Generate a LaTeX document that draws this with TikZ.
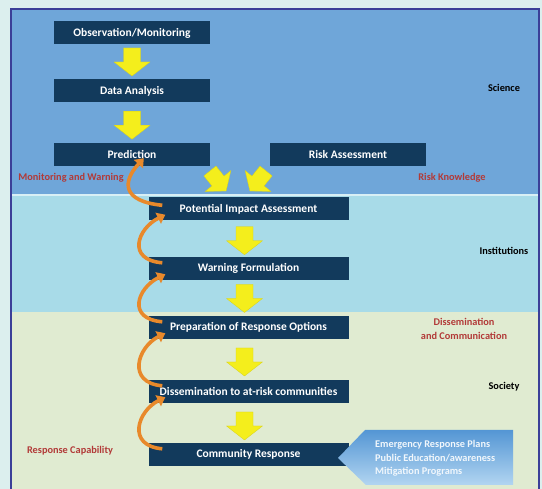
\documentclass[tikz,border=0pt]{standalone}
\usepackage{fontspec}
\setmainfont{Carlito}
\usetikzlibrary{calc,arrows.meta}
\definecolor{bgc}{HTML}{DCEFEE}
\definecolor{framec}{HTML}{3B3F98}
\definecolor{sci}{HTML}{6FA6D9}
\definecolor{inst}{HTML}{A8DBE8}
\definecolor{soc}{HTML}{E0EBD1}
\definecolor{navy}{HTML}{123A5C}
\definecolor{yel}{HTML}{F4EE1C}
\definecolor{orng}{HTML}{E8892B}
\definecolor{redl}{HTML}{B23A38}
\definecolor{callA}{HTML}{5496D4}
\definecolor{callB}{HTML}{B2D5F1}
\begin{document}
\begin{tikzpicture}[x=1pt,y=-1pt,
  box/.style={fill=navy, minimum width=156pt, minimum height=23pt, inner sep=0pt,
    text=white, font=\bfseries\fontsize{11.5}{13}\selectfont},
  widebox/.style={box, minimum width=200pt},
  lbl/.style={font=\bfseries\fontsize{10.3}{12}\selectfont, text=black},
  rlbl/.style={lbl, text=redl, align=center, font=\bfseries\fontsize{10.3}{14}\selectfont},
  yarr/.style={fill=yel, draw=yel!88!black, line width=0.3pt},
  oarr/.style={draw=orng, line width=3.6pt, -{Triangle[length=8pt,width=12pt]}},
  ydown/.pic={\path[yarr] (-8.5,-14) -- (8.5,-14) -- (8.5,0) -- (18,0) -- (0,14) -- (-18,0) -- (-8.5,0) -- cycle;}
]
\useasboundingbox (0,0) rectangle (542,489);
\clip (0,0) rectangle (542,489);
\fill[bgc] (0,0) rectangle (542,489);
\fill[sci] (11,9) rectangle (539,195);
\fill[inst] (11,195) rectangle (539,312);
\fill[soc] (11,312) rectangle (539,500);
\draw[white!55!inst, line width=1.2pt] (11,195) -- (539,195);
\draw[framec, line width=2.2pt] (11,9) rectangle (539,520);

% boxes
\node[box] (obs) at (132,33) {Observation/Monitoring};
\node[box] (data) at (132,91) {Data Analysis};
\node[box] (pred) at (132,154.5) {Prediction};
\node[box] (risk) at (348,154.5) {Risk Assessment};
\node[widebox] (pia) at (248.5,209) {Potential Impact Assessment};
\node[widebox] (wf) at (248.5,268.5) {Warning Formulation};
\node[widebox] (pro) at (248.5,327.5) {Preparation of Response Options};
\node[widebox] (dar) at (248.5,391.5) {Dissemination to at-risk communities};
\node[widebox] (cr) at (248.5,454.5) {Community Response};

% yellow block arrows
\pic at ($(obs.south)!0.5!(data.north)$) {ydown};
\pic at ($(data.south)!0.5!(pred.north)+(0,2.5)$) {ydown};
\pic[rotate=39, scale=0.92] at (218,181) {ydown};
\pic[rotate=-39, scale=0.92] at (258,181) {ydown};
\pic at ($(pia.south)!0.5!(wf.north)+(-4,2)$) {ydown};
\pic at ($(wf.south)!0.5!(pro.north)+(-4,0.5)$) {ydown};
\pic at ($(pro.south)!0.5!(dar.north)+(-4,2.5)$) {ydown};
\pic at ($(dar.south)!0.5!(cr.north)+(-4,3)$) {ydown};

% orange feedback arrows
\coordinate (tA) at ($(pia.north west)+(14,8)$);
\coordinate (hA) at ($(pred.south west)+(90,-8)$);
\draw[oarr] (tA) .. controls ($(tA)+(-40,-4)$) and ($(hA)+(-22,24)$) .. (hA);
\coordinate (tB) at ($(wf.north west)+(14,6)$);
\coordinate (hB) at ($(pia.south west)+(17,-6)$);
\draw[oarr] (tB) .. controls ($(tB)+(-36,-3)$) and ($(hB)+(-28,14)$) .. (hB);
\coordinate (tC) at ($(pro.north west)+(14,6)$);
\coordinate (hC) at ($(wf.south west)+(17,-6)$);
\draw[oarr] (tC) .. controls ($(tC)+(-36,-3)$) and ($(hC)+(-28,14)$) .. (hC);
\coordinate (tD) at ($(dar.north west)+(14,6)$);
\coordinate (hD) at ($(pro.south west)+(17,-6)$);
\draw[oarr] (tD) .. controls ($(tD)+(-36,-3)$) and ($(hD)+(-28,14)$) .. (hD);
\coordinate (tE) at ($(cr.north west)+(14,6)$);
\coordinate (hE) at ($(dar.south west)+(17,-6)$);
\draw[oarr] (tE) .. controls ($(tE)+(-36,-3)$) and ($(hE)+(-28,14)$) .. (hE);

% labels
\node[lbl] (science) at (504,88) {Science};
\node[rlbl] (mw) at (71,178) {Monitoring and Warning};
\node[rlbl] (rk) at (452,178) {Risk Knowledge};
\node[lbl] (instl) at (504,251) {Institutions};
\node[rlbl] (dc) at (464,329) {Dissemination\\and Communication};
\node[lbl] (society) at (504,387) {Society};
\node[rlbl] (rc) at (70,451) {Response Capability};

% callout
\path[top color=callA, bottom color=callB]
  (338,458) -- (365,430) -- (513,430) -- (513,485) -- (366,485) -- cycle;
\node[font=\bfseries\fontsize{10.3}{13.5}\selectfont, text=white!92!callA, align=left,
  anchor=west, inner sep=0pt] (calltext) at (375,458.5)
  {Emergency Response Plans\\Public Education/awareness\\Mitigation Programs};
\end{tikzpicture}
\end{document}
